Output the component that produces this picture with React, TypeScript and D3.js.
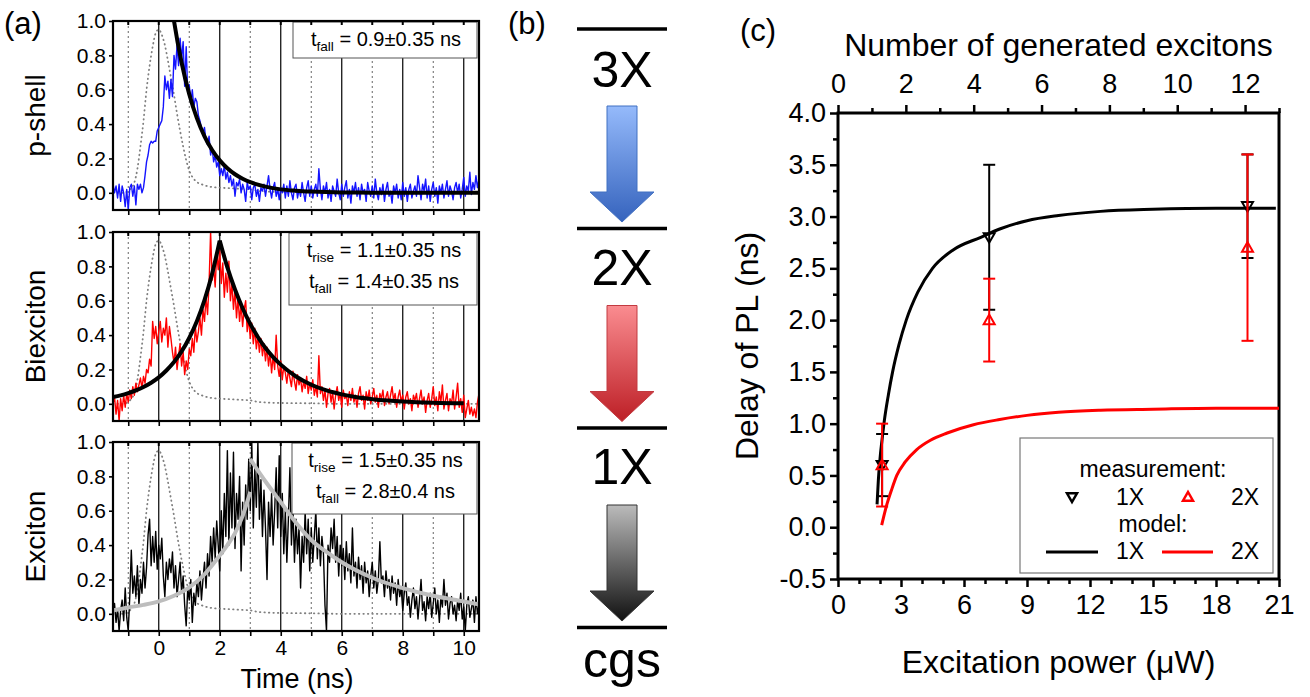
import React, { useRef, useEffect } from "react";
import * as d3 from "d3";

const FONT = "'Liberation Sans', Arial, Helvetica, sans-serif";
const W = 1310;
const H = 697;

// ---- panel (a): time-resolved PL, one bin every 50 ps starting at -1.5 ns
const traceStart = -1.5;
const traceStep = 0.05;

const pShellTrace = [
  .05, 0, .04, -.03, .05, -.05, .04, 0, -.08, .02, -.1, .03, .05, -.02, .04, -.07, .05, .02, .05, 0,
  .03, .1, .18, .22, .28, .3, .29, .3, .3, .36, .38, .4, .42, .5, .68, .6, .65, .55, .66, .56,
  .8, .72, .86, .74, .9, .78, .88, .62, .85, .58, .63, .52, .6, .5, .55, .53, .45, .42, .38, .35,
  .38, .3, .28, .33, .22, .26, .18, .22, .15, .18, .1, .14, .1, .16, .08, .12, .06, .1, .04, .08,
  -.02, .06, .04, .08, 0, .05, .02, -.05, .06, .02, .04, -.04, .03, .05, -.02, .02, -.05, .03, .01, .05,
  -.02, .04, .1, .02, -.03, .03, .06, -.02, .02, -.04, .03, 0, .05, -.03, .04, -.02, .07, 0, -.04, .03,
  .05, -.03, .02, -.02, .06, 0, -.05, .03, .07, -.02, .04, -.03, .02, .05, -.02, .14, .02, -.04, .04, 0,
  .06, -.03, .02, -.05, .04, .01, -.02, .08, 0, -.04, .05, -.02, .03, .07, -.03, .02, -.06, .04, 0, .06,
  -.02, .03, -.04, .05, 0, .02, -.05, .06, .01, -.02, .04, -.03, .08, 0, -.04, .03, -.01, .05, -.05, .02,
  .06, -.02, .01, -.06, .04, 0, .05, -.03, .02, -.04, .06, -.02, .03, -.05, .02, .05, -.03, .01, .04, -.02,
  .1, .03, -.04, .05, .01, .08, -.03, .04, -.05, .02, .06, -.02, .03, -.06, .04, 0, .05, -.03, .02, .07,
  -.02, .04, .01, -.04, .03, .06, 0, .05, -.03, .02, .09, -.02, .04, .01, .12, -.01, .06, .02, .1, .03, .08,
];

const biexcitonTrace = [
  0, .04, -.06, .02, -.1, .03, -.04, .05, -.02, .06, .01, .08, .03, .1, .05, .12, .07, .11, .15, .09,
  .16, .12, .2, .18, .26, .22, .48, .38, .45, .35, .42, .48, .36, .44, .4, .5, .33, .45, .38, .3,
  .24, .33, .2, .28, .35, .22, .3, .17, .25, .2, .32, .28, .38, .3, .45, .36, .42, .5, .4, .55,
  .48, .62, .52, .7, 1.0, .72, .8, .68, .88, .78, .9, .7, .82, .62, .76, .65, .83, .6, .7, .55,
  .66, .5, .62, .48, .58, .45, .55, .6, .42, .5, .38, .47, .35, .44, .32, .4, .3, .38, .28, .35,
  .25, .33, .22, .3, .18, .28, .2, .4, .22, .16, .25, .14, .22, .18, .12, .2, .15, .1, .19, .13,
  .08, .17, .11, .15, .07, .13, .09, .16, .06, .12, .08, .14, .05, .1, .04, .28, .06, .1, .02, .08,
  -.02, .06, .09, .01, .07, -.03, .05, .1, .02, .06, -.02, .08, .03, .05, -.01, .07, .02, .09, .01, .05,
  -.02, .06, .1, .02, .05, -.03, .07, .02, .08, 0, .04, .09, .01, .05, -.02, .06, .03, .08, -.01, .04,
  .07, 0, .05, .1, .02, .06, -.02, .04, .08, .01, .05, -.03, .04, .07, 0, .03, -.04, .05, .02, .06,
  -.02, .03, .08, 0, .04, -.05, .02, .06, -.02, .03, .1, -.01, .04, -.04, .07, .01, .11, -.03, .02, .06,
  -.04, .03, 0, .08, -.03, .04, .12, -.02, .03, -.05, .05, -.08, -.03, .02, -.06, -.02, -.07, -.03, -.08, .01, .06,
];

const excitonTrace = [
  0, .06, -.05, .03, -.1, .02, .08, -.04, .15, -.02, -.1, .1, .37, .12, .22, .1, .28, .05, .2, .12,
  .3, .15, .27, .46, .55, .28, .45, .3, .48, .26, .4, .32, .44, .22, .1, .3, .2, .32, .24, .36,
  .15, .28, .1, .2, .3, .12, .22, .05, -.07, .15, .08, .2, -.05, .12, .05, .18, .1, .25, .08, .2,
  .3, .15, .35, .22, .45, .3, .5, .32, .54, .4, .25, .6, .35, .7, .45, .95, .4, .82, .5, .94,
  .38, .7, .55, .8, .25, .65, .4, .75, .55, .9, .6, 1.0, .5, .85, .62, 1.0, .55, .78, .45, .72,
  .5, .2, .65, .45, .7, .4, .6, .85, .5, .92, .45, .7, .35, .6, .3, .55, .85, .4, .62, .3,
  .55, .35, .5, .15, .45, .3, .6, .35, .55, .25, .5, .3, .45, .6, .32, .5, .28, .45, .35, .05,
  -.1, .4, .3, .5, .38, .55, .3, .45, .22, .4, .28, .38, .2, .42, .25, .35, .18, .5, .22, .3,
  .15, .33, .2, .28, .12, .3, .18, .25, .1, .22, .3, .15, .25, .12, .2, .42, .18, .22, .1, .25,
  .15, .2, .08, .22, .12, .18, .05, .2, .1, .15, .02, .12, .18, .05, .1, -.02, .08, .15, .03, .1,
  -.03, .08, .2, .02, .07, -.04, .1, .03, .12, -.02, .06, .15, 0, .08, -.05, .1, .04, .2, .05, .12,
  -.03, .06, .1, 0, .05, -.04, .08, .02, .12, -.03, .04, -.1, .05, .1, -.02, .03, .08, -.05, .1, 0, .05,
];

// laser pulse (dotted gray), same in the three traces
const laserTime = [-1.5, -1.2, -1.0, -0.9, -0.8, -0.7, -0.6, -0.5, -0.4, -0.3, -0.2, -0.1, 0, 0.1, 0.2, 0.3, 0.4, 0.5, 0.6, 0.7,
  0.8, 0.9, 1.0, 1.2, 1.4, 1.7, 2.0, 2.5, 3.0, 3.3, 4.0, 5.0, 6.0, 8.0, 10.5];
const laserValue = [0, 0, 0.01, 0.03, 0.06, 0.14, 0.27, 0.42, 0.6, 0.74, 0.85, 0.93, 0.95, 0.92, 0.86, 0.77, 0.67, 0.57, 0.46, 0.36,
  0.27, 0.19, 0.13, 0.07, 0.05, 0.035, 0.03, 0.025, 0.02, 0.01, 0.005, 0.003, 0, 0, 0];

// fitted curves
const pShellFitTime = [0.4, 0.5, 0.75, 1.0, 1.25, 1.5, 1.75, 2.0, 2.25, 2.5, 2.75, 3.0, 3.5, 4.0, 4.5, 5.0, 6.0, 7.0, 8.0, 10.5];
const pShellFitValue = [1.12, 1.0, 0.757, 0.574, 0.435, 0.329, 0.249, 0.189, 0.143, 0.108, 0.082, 0.062, 0.036, 0.02, 0.012, 0.007, 0.002, 0.001, 0, 0];

const biexFitTime = [-1.5, -1.25, -1, -0.75, -0.5, -0.25, 0, 0.25, 0.5, 0.75, 1, 1.25, 1.5, 1.75, 2,
  2.25, 2.5, 2.75, 3, 3.25, 3.5, 3.75, 4, 4.5, 5, 5.5, 6, 6.5, 7, 7.5, 8, 9, 10];
const biexFitValue = [0.039, 0.049, 0.062, 0.078, 0.098, 0.123, 0.154, 0.194, 0.243, 0.305, 0.383, 0.48, 0.603, 0.757, 0.95,
  0.794, 0.665, 0.556, 0.465, 0.389, 0.325, 0.272, 0.228, 0.159, 0.111, 0.078, 0.055, 0.038, 0.027, 0.019, 0.013, 0.006, 0.003];

const excRiseTime = [-1.5, -1, -0.5, 0, 0.5, 1, 1.5, 2, 2.25, 2.5, 2.75, 3];
const excRiseValue = [0.02, 0.037, 0.052, 0.072, 0.105, 0.154, 0.23, 0.34, 0.4, 0.47, 0.57, 0.71];
const excFallTime = [3, 3.5, 4, 4.5, 5, 5.5, 6, 7, 8, 9, 10, 10.5];
const excFallValue = [0.9, 0.77, 0.65, 0.53, 0.43, 0.36, 0.3, 0.21, 0.15, 0.105, 0.072, 0.055];

const timeTicks = [-1, 0, 1, 2, 3, 4, 5, 6, 7, 8, 9, 10];
const intensityTicks = [0, 0.2, 0.4, 0.6, 0.8, 1.0];

// ---- panel (b): cascade levels
const levelNames = ["3X", "2X", "1X", "cgs"];

// ---- panel (c): delay of PL vs excitation power
const measPower = [2.1, 7.2, 19.5];
const meas1X = [0.6, 2.8, 3.1];
const meas1XLow = [0.3, 2.1, 2.6];
const meas1XHigh = [0.9, 3.5, 3.6];
const meas2X = [0.6, 2.0, 2.7];
const meas2XLow = [0.2, 1.6, 1.8];
const meas2XHigh = [1.0, 2.4, 3.6];

const model1XPower = [1.86, 1.92, 2.0, 2.1, 2.2, 2.4, 2.6, 2.9, 3.25, 3.8, 4.5, 5.5, 6.8, 7.7, 9.0, 10.5, 12.5, 15, 18, 20.85];
const model1XDelay = [0.22, 0.45, 0.66, 0.85, 1.02, 1.28, 1.5, 1.76, 2.0, 2.27, 2.5, 2.68, 2.8, 2.88, 2.96, 3.01, 3.05, 3.07, 3.08, 3.08];
const model2XPower = [2.08, 2.3, 2.55, 2.8, 3.2, 3.75, 4.4, 5.2, 6.45, 7.7, 9.0, 10.5, 12.5, 15, 18, 21];
const model2XDelay = [0.02, 0.2, 0.36, 0.5, 0.63, 0.75, 0.84, 0.91, 0.99, 1.04, 1.08, 1.11, 1.13, 1.14, 1.15, 1.15];

const powerTicks = [0, 3, 6, 9, 12, 15, 18, 21];
const excitonTicks = [0, 2, 4, 6, 8, 10, 12];
const delayTicks = [-0.5, 0, 0.5, 1.0, 1.5, 2.0, 2.5, 3.0, 3.5, 4.0];

type Sel = d3.Selection<any, any, any, any>;

// text with a subscript, e.g. t_fall = ...
function subText(g: Sel, x: number, y: number, sub: string, rest: string, size: number) {
  const t = g.append("text").attr("x", x).attr("y", y).attr("text-anchor", "middle")
    .attr("font-size", size).attr("fill", "#000");
  t.append("tspan").text("t");
  t.append("tspan").attr("dy", 5).attr("font-size", size * 0.68).text(sub);
  t.append("tspan").attr("dy", -5).text(" = " + rest);
}

function drawPanelA(svg: Sel, defs: Sel) {
  const x = d3.scaleLinear().domain([-1.5, 10.5]).range([113, 479]);
  const panels = [
    { name: "p-shell", data: pShellTrace, color: "#1414ff", legend: [["fall", "0.9±0.35 ns"]], box: [293, 36] },
    { name: "Biexciton", data: biexcitonTrace, color: "#ff0000", legend: [["rise", "1.1±0.35 ns"], ["fall", "1.4±0.35 ns"]], box: [289, 72] },
    { name: "Exciton", data: excitonTrace, color: "#000000", legend: [["rise", "1.5±0.35 ns"], ["fall", "2.8±0.4 ns"]], box: [292, 71] },
  ];
  const tops = [21, 232, 442];
  const ph = 189;

  panels.forEach((p, k) => {
    const top = tops[k];
    const bottom = top + ph;
    const y = d3.scaleLinear().domain([-0.1, 1.0]).range([bottom, top]);
    const g = svg.append("g");

    const clipId = `clipA${k}`;
    defs.append("clipPath").attr("id", clipId).append("rect")
      .attr("x", x(-1.5)).attr("y", top).attr("width", x(10.5) - x(-1.5)).attr("height", ph);

    // vertical grid: solid at even ns, dotted at odd ns
    g.selectAll(".grid").data(timeTicks).enter().append("line")
      .attr("x1", (d) => x(d)).attr("x2", (d) => x(d))
      .attr("y1", top).attr("y2", bottom)
      .attr("stroke", (d) => (d % 2 === 0 ? "#000" : "#666"))
      .attr("stroke-width", (d) => (d % 2 === 0 ? 1.2 : 1))
      .attr("stroke-dasharray", (d) => (d % 2 === 0 ? null : "2,3"));

    const plot = g.append("g").attr("clip-path", `url(#${clipId})`);

    const line = d3.line<number>()
      .x((d, i) => x(traceStart + i * traceStep))
      .y((d) => y(d));

    plot.append("path").datum(laserValue)
      .attr("d", d3.line<number>().x((d, i) => x(laserTime[i])).y((d) => y(d)).curve(d3.curveMonotoneX))
      .attr("fill", "none").attr("stroke", "#808080").attr("stroke-width", 1.8)
      .attr("stroke-dasharray", "0.5,4").attr("stroke-linecap", "round");

    plot.append("path").datum(p.data)
      .attr("d", line).attr("fill", "none").attr("stroke", p.color).attr("stroke-width", 1.4)
      .attr("stroke-linejoin", "round");

    const fitLine = (ts: number[]) => d3.line<number>().x((d, i) => x(ts[i])).y((d) => y(d)).curve(d3.curveMonotoneX);
    if (k === 0) {
      plot.append("path").datum(pShellFitValue).attr("d", fitLine(pShellFitTime))
        .attr("fill", "none").attr("stroke", "#000").attr("stroke-width", 4);
    } else if (k === 1) {
      // rise and decay drawn apart so the peak keeps its cusp
      const peak = d3.maxIndex(biexFitValue);
      const riseT = biexFitTime.slice(0, peak + 1);
      const fallT = biexFitTime.slice(peak);
      plot.append("path").datum(biexFitValue.slice(0, peak + 1)).attr("d", fitLine(riseT))
        .attr("fill", "none").attr("stroke", "#000").attr("stroke-width", 4);
      plot.append("path").datum(biexFitValue.slice(peak)).attr("d", fitLine(fallT))
        .attr("fill", "none").attr("stroke", "#000").attr("stroke-width", 4);
    } else {
      plot.append("path").datum(excRiseValue).attr("d", fitLine(excRiseTime))
        .attr("fill", "none").attr("stroke", "#bdbdbd").attr("stroke-width", 4);
      plot.append("path").datum(excFallValue).attr("d", fitLine(excFallTime))
        .attr("fill", "none").attr("stroke", "#bdbdbd").attr("stroke-width", 4);
    }

    // legend box with the fitted times
    const [bx, bh] = p.box;
    g.append("rect").attr("x", bx).attr("y", top + 1).attr("width", 477 - bx).attr("height", bh)
      .attr("fill", "#fff").attr("stroke", "#555").attr("stroke-width", 1);
    p.legend.forEach(([sub, rest], j) => {
      subText(g, (bx + 477) / 2 + 1, top + 25 + j * 31, sub, rest, 20);
    });

    // frame
    g.append("rect").attr("x", x(-1.5)).attr("y", top).attr("width", x(10.5) - x(-1.5)).attr("height", ph)
      .attr("fill", "none").attr("stroke", "#000").attr("stroke-width", 2.2);

    // top inner ticks
    g.selectAll(".ttick").data(timeTicks).enter().append("line")
      .attr("x1", (d) => x(d)).attr("x2", (d) => x(d)).attr("y1", top).attr("y2", top + 4)
      .attr("stroke", "#000").attr("stroke-width", 2);

    // bottom axis
    const xAxis = d3.axisBottom(x).tickValues(timeTicks).tickSize(5).tickPadding(4)
      .tickFormat((d: any) => (k === 2 && d % 2 === 0 ? String(d) : ""));
    const gx = g.append("g").attr("transform", `translate(0,${bottom})`).call(xAxis);
    gx.select(".domain").remove();
    gx.selectAll("line").attr("stroke-width", 1.6);
    gx.selectAll("text").attr("font-size", 21).attr("font-family", FONT).attr("fill", "#000");

    // left axis
    const yAxis = d3.axisLeft(y).tickValues(intensityTicks).tickSize(4).tickPadding(3)
      .tickFormat((d: any) => d.toFixed(1));
    const gy = g.append("g").attr("transform", `translate(${x(-1.5)},0)`).call(yAxis);
    gy.select(".domain").remove();
    gy.selectAll("line").attr("stroke-width", 1.6);
    gy.selectAll("text").attr("font-size", 21).attr("font-family", FONT).attr("fill", "#000");

    g.append("text").attr("transform", `translate(45,${(top + bottom) / 2}) rotate(-90)`)
      .attr("text-anchor", "middle").attr("font-size", 28).text(p.name);
  });

  svg.append("text").attr("x", 297).attr("y", 688).attr("text-anchor", "middle")
    .attr("font-size", 27).text("Time (ns)");
  svg.append("text").attr("x", 4).attr("y", 34).attr("font-size", 31).text("(a)");
}

function drawPanelB(svg: Sel, defs: Sel) {
  const levelY = [29, 228.5, 428, 627.5];
  const labelY = [87, 284.5, 484, 677];
  const arrowColors = [
    ["#95bafb", "#3563bd", "#4170c2"],
    ["#fa8c90", "#bd1f26", "#c23a40"],
    ["#bbbbbb", "#111111", "#333333"],
  ];
  const g = svg.append("g");

  arrowColors.forEach(([c0, c1], i) => {
    const grad = defs.append("linearGradient").attr("id", `arrowGrad${i}`)
      .attr("x1", 0).attr("y1", 0).attr("x2", 0).attr("y2", 1);
    grad.append("stop").attr("offset", "0%").attr("stop-color", c0);
    grad.append("stop").attr("offset", "100%").attr("stop-color", c1);
  });

  levelY.forEach((ly, i) => {
    g.append("line").attr("x1", 577).attr("x2", 667).attr("y1", ly).attr("y2", ly)
      .attr("stroke", "#000").attr("stroke-width", 3.5);
    g.append("text").attr("x", 622).attr("y", labelY[i]).attr("text-anchor", "middle")
      .attr("font-size", 50).text(levelNames[i]);
  });

  levelY.slice(0, 3).forEach((ly, i) => {
    const y0 = ly + 77;
    const y1 = ly + 163;
    const yt = ly + 193;
    g.append("path")
      .attr("d", `M607,${y0} H637 V${y1} H654 L622,${yt} L590,${y1} H607 Z`)
      .attr("fill", `url(#arrowGrad${i})`).attr("stroke", arrowColors[i][2]).attr("stroke-width", 1);
  });

  svg.append("text").attr("x", 508).attr("y", 34).attr("font-size", 31).text("(b)");
}

function drawPanelC(svg: Sel) {
  const left = 838, right = 1279, top = 113, bottom = 579;
  const xP = d3.scaleLinear().domain([0, 21]).range([left, right]);
  const xN = d3.scaleLinear().domain([0, 13]).range([left, right]);
  const yD = d3.scaleLinear().domain([-0.5, 4.0]).range([bottom, top]);
  const g = svg.append("g");

  const styleAxis = (a: Sel, size: number) => {
    a.select(".domain").remove();
    a.selectAll("line").attr("stroke-width", 2.5);
    a.selectAll("text").attr("font-size", size).attr("font-family", FONT).attr("fill", "#000");
  };

  // bottom axis (power)
  styleAxis(g.append("g").attr("transform", `translate(0,${bottom})`)
    .call(d3.axisBottom(xP).tickValues(powerTicks).tickSize(8).tickPadding(8).tickFormat((d: any) => String(d))), 27);
  styleAxis(g.append("g").attr("transform", `translate(0,${bottom})`)
    .call(d3.axisBottom(xP).tickValues(d3.range(0, 22).filter((v) => v % 3 !== 0)).tickSize(5).tickFormat(() => "")), 27);

  // top axis (excitons)
  styleAxis(g.append("g").attr("transform", `translate(0,${top})`)
    .call(d3.axisTop(xN).tickValues(excitonTicks).tickSize(8).tickPadding(12).tickFormat((d: any) => String(d))), 27);
  styleAxis(g.append("g").attr("transform", `translate(0,${top})`)
    .call(d3.axisTop(xN).tickValues([1, 3, 5, 7, 9, 11, 13]).tickSize(5).tickFormat(() => "")), 27);

  // left axis (delay)
  styleAxis(g.append("g").attr("transform", `translate(${left},0)`)
    .call(d3.axisLeft(yD).tickValues(delayTicks).tickSize(8).tickPadding(4).tickFormat((d: any) => d.toFixed(1))), 27);
  styleAxis(g.append("g").attr("transform", `translate(${left},0)`)
    .call(d3.axisLeft(yD).tickValues(delayTicks.slice(0, -1).map((v) => v + 0.25)).tickSize(5).tickFormat(() => "")), 27);

  // frame
  g.append("rect").attr("x", left).attr("y", top).attr("width", right - left).attr("height", bottom - top)
    .attr("fill", "none").attr("stroke", "#000").attr("stroke-width", 3);

  // model curves
  const modelLine = (ps: number[]) => d3.line<number>().x((d, i) => xP(ps[i])).y((d) => yD(d)).curve(d3.curveMonotoneX);
  g.append("path").datum(model2XDelay).attr("d", modelLine(model2XPower))
    .attr("fill", "none").attr("stroke", "#ff0000").attr("stroke-width", 3);
  g.append("path").datum(model1XDelay).attr("d", modelLine(model1XPower))
    .attr("fill", "none").attr("stroke", "#000").attr("stroke-width", 3);

  const downTri = (cx: number, cy: number, s: number) =>
    `M${cx - s},${cy - s * 0.75} L${cx + s},${cy - s * 0.75} L${cx},${cy + s} Z`;
  const upTri = (cx: number, cy: number, s: number) =>
    `M${cx - s},${cy + s * 0.75} L${cx + s},${cy + s * 0.75} L${cx},${cy - s} Z`;

  const drawSeries = (vals: number[], lo: number[], hi: number[], color: string, tri: typeof downTri) => {
    measPower.forEach((p, i) => {
      const cx = xP(p);
      g.append("line").attr("x1", cx).attr("x2", cx).attr("y1", yD(lo[i])).attr("y2", yD(hi[i]))
        .attr("stroke", color).attr("stroke-width", 2);
      [lo[i], hi[i]].forEach((v) => {
        g.append("line").attr("x1", cx - 6).attr("x2", cx + 6).attr("y1", yD(v)).attr("y2", yD(v))
          .attr("stroke", color).attr("stroke-width", 2);
      });
      g.append("path").attr("d", tri(cx, yD(vals[i]), 5.5))
        .attr("fill", "none").attr("stroke", color).attr("stroke-width", 2);
    });
  };
  drawSeries(meas1X, meas1XLow, meas1XHigh, "#000", downTri);
  drawSeries(meas2X, meas2XLow, meas2XHigh, "#ff0000", upTri);

  // legend
  const lg = g.append("g");
  lg.append("rect").attr("x", 1020).attr("y", 438).attr("width", 253).attr("height", 135)
    .attr("fill", "#fff").attr("stroke", "#777").attr("stroke-width", 1.2);
  lg.append("text").attr("x", 1153).attr("y", 477).attr("text-anchor", "middle").attr("font-size", 23).text("measurement:");
  lg.append("path").attr("d", downTri(1072, 497, 5)).attr("fill", "none").attr("stroke", "#000").attr("stroke-width", 2.5);
  lg.append("text").attr("x", 1116).attr("y", 505).attr("font-size", 23).text("1X");
  lg.append("path").attr("d", upTri(1188, 497, 5)).attr("fill", "none").attr("stroke", "#ff0000").attr("stroke-width", 2.5);
  lg.append("text").attr("x", 1231).attr("y", 505).attr("font-size", 23).text("2X");
  lg.append("text").attr("x", 1153).attr("y", 532).attr("text-anchor", "middle").attr("font-size", 23).text("model:");
  lg.append("line").attr("x1", 1046).attr("x2", 1098).attr("y1", 552).attr("y2", 552).attr("stroke", "#000").attr("stroke-width", 3);
  lg.append("text").attr("x", 1116).attr("y", 559).attr("font-size", 23).text("1X");
  lg.append("line").attr("x1", 1162).attr("x2", 1213).attr("y1", 552).attr("y2", 552).attr("stroke", "#ff0000").attr("stroke-width", 3);
  lg.append("text").attr("x", 1231).attr("y", 559).attr("font-size", 23).text("2X");

  // titles
  svg.append("text").attr("x", (left + right) / 2).attr("y", 56).attr("text-anchor", "middle")
    .attr("font-size", 32).text("Number of generated excitons");
  svg.append("text").attr("x", (left + right) / 2).attr("y", 673).attr("text-anchor", "middle")
    .attr("font-size", 32).text("Excitation power (μW)");
  svg.append("text").attr("transform", `translate(758,${(top + bottom) / 2}) rotate(-90)`)
    .attr("text-anchor", "middle").attr("font-size", 32).text("Delay of PL (ns)");
  svg.append("text").attr("x", 740).attr("y", 41).attr("font-size", 31).text("(c)");
}

const App = () => {
  const svgRef = useRef<SVGSVGElement>(null);

  useEffect(() => {
    document.body.style.margin = "0";
    const svg = d3.select(svgRef.current);
    svg.selectAll("*").remove();
    svg.attr("width", W).attr("height", H)
      .style("font-family", FONT)
      .style("background", "#fff");
    svg.append("rect").attr("width", W).attr("height", H).attr("fill", "#fff");
    const defs = svg.append("defs");

    drawPanelA(svg, defs);
    drawPanelB(svg, defs);
    drawPanelC(svg);
  }, []);

  return <svg ref={svgRef} style={{ display: "block" }}></svg>;
};

export default App;
